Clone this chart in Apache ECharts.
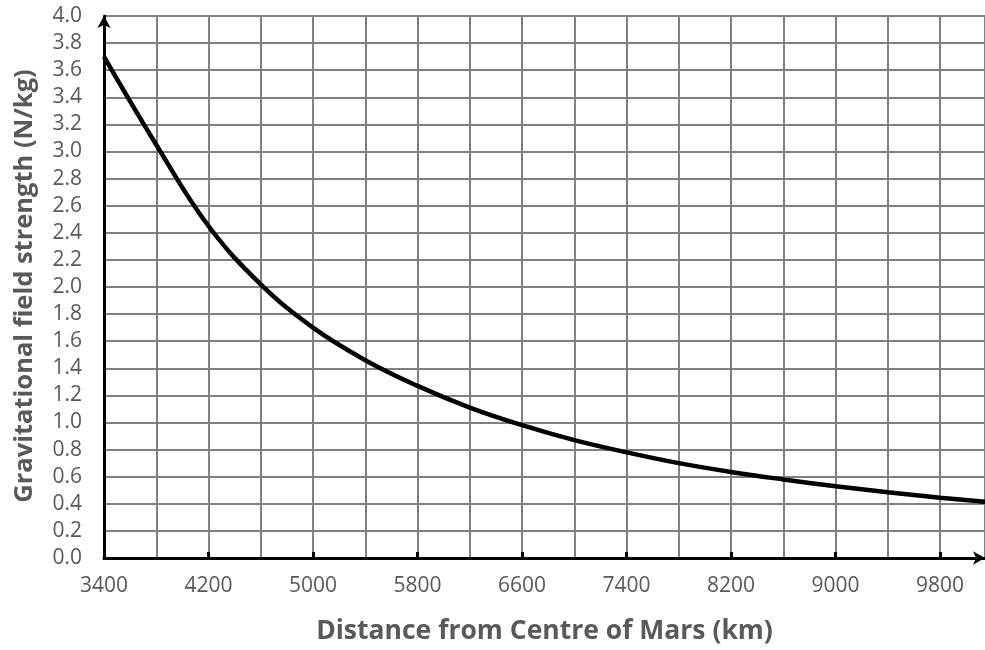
<!DOCTYPE html>
<html><head><meta charset="utf-8">
<script src="https://cdn.jsdelivr.net/npm/echarts@6/dist/echarts.min.js"></script>
<style>html,body{margin:0;padding:0;background:#fff}#c{width:985px;height:650px}</style>
</head><body><div id="c"></div>
<script>
const distances = [3400,3800,4200,4600,5000,5400,5800,6200,6600,7000,7400,7800,8200,8600,9000,9400,9800,10200];
const fieldStrength = [3.70,3.05,2.45,2.02,1.70,1.46,1.27,1.11,0.98,0.87,0.78,0.70,0.635,0.58,0.53,0.485,0.445,0.41];
const xTitle = 'Distance from Centre of Mars (km)';
const yTitle = 'Gravitational field strength (N/kg)';

const chart = echarts.init(document.getElementById('c'), null, {renderer:'canvas'});
const font = '"Open Sans", "Liberation Sans", sans-serif';
const gridStyle = {color:'#808080', width:2};
chart.setOption({
  animation:false,
  grid:{left:104, right:0, top:16, bottom:92},
  graphic:[{
    type:'text', x:25, y:286, rotation:Math.PI/2,
    style:{text:yTitle, fill:'#595959', font:'bold 25.5px ' + font, align:'center', verticalAlign:'middle'}
  }],
  xAxis:{
    type:'value', min:3400, max:10144, interval:800,
    axisLine:{lineStyle:{color:'#000', width:3}, symbol:['none','arrow'], symbolSize:[10,12]},
    axisTick:{show:true, inside:true, length:6, lineStyle:{color:'#000', width:3}},
    axisLabel:{color:'#595959', fontSize:21, fontFamily:font, margin:18, showMaxLabel:false, formatter:v=>String(v)},
    splitLine:{show:true, lineStyle:gridStyle},
    minorTick:{show:false, splitNumber:2},
    minorSplitLine:{show:true, lineStyle:gridStyle},
    name:xTitle, nameLocation:'middle', nameGap:60,
    nameTextStyle:{color:'#595959', fontSize:26.5, fontWeight:'bold', fontFamily:font}
  },
  yAxis:{
    type:'value', min:0, max:4, interval:0.2,
    axisLine:{show:true, lineStyle:{color:'#000', width:3}, symbol:['none','arrow'], symbolSize:[10,12]},
    axisTick:{show:false},
    axisLabel:{color:'#595959', fontSize:21, fontFamily:font, margin:22, formatter:v=>v.toFixed(1)},
    splitLine:{show:true, lineStyle:gridStyle}
  },
  series:[{
    type:'line', smooth:0.4, showSymbol:false,
    data:distances.map((d,i)=>[d, fieldStrength[i]]),
    lineStyle:{color:'#000', width:4.5},
    clip:true
  }]
});
</script></body></html>
